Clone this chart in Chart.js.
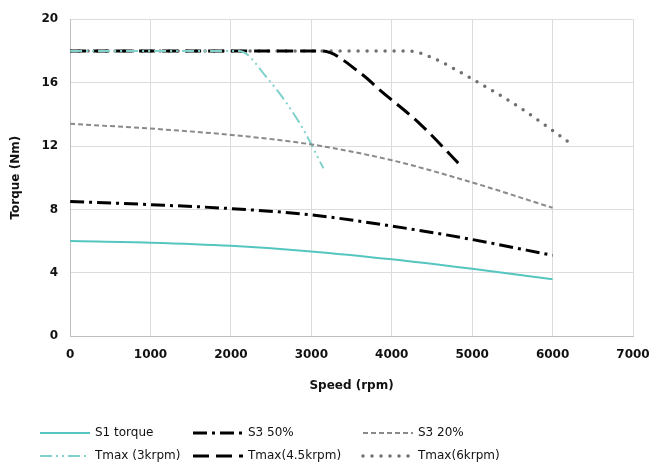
<!DOCTYPE html>
<html>
<head>
<meta charset="utf-8">
<script src="https://cdn.jsdelivr.net/npm/chart.js@4/dist/chart.umd.min.js"></script>
<style>
  html, body { margin: 0; padding: 0; background: #fff; }
  #wrap { width: 667px; height: 472px; }
</style>
</head>
<body>
<div id="wrap"><canvas id="chartTorque"></canvas></div>
<script>
// Curvas de par vs velocidad
const speedS = [0, 1000, 2000, 3000, 4000, 5000, 6000];
const s1Torque = [6.0, 5.9, 5.7, 5.35, 4.85, 4.25, 3.6];
const s3_50 = [8.5, 8.3, 8.05, 7.65, 6.95, 6.1, 5.1];
const s3_20 = [13.4, 13.1, 12.7, 12.1, 11.1, 9.7, 8.1];

const speed3k = [0, 1000, 2100, 2450, 2860, 3150];
const tmax3k = [18, 18, 18, 16.3, 13.4, 10.6];

const speed45k = [0, 1000, 2000, 3130, 3610, 3860, 4350, 4850];
const tmax45k = [18, 18, 18, 18, 16.6, 15.5, 13.4, 10.8];

const speed6k = [0, 1000, 2000, 3000, 4200, 4440, 5010, 5600, 6240];
const tmax6k = [18, 18, 18, 18, 18, 17.7, 16.2, 14.4, 12.1];

const xTicks = [0, 1000, 2000, 3000, 4000, 5000, 6000, 7000];
const yTicks = [0, 4, 8, 12, 16, 20];

function puntos(xs, ys) {
    return xs.map((x, i) => ({ x: x, y: ys[i] }));
}

const FONT = '"DejaVu Sans", Verdana, sans-serif';

// Leyenda propia en 3 columnas
const legendPlugin = {
    id: 'legendGrid',
    afterDraw(chart) {
        const ctx = chart.ctx;
        const cols = [40, 193, 363];
        const rows = [433, 456];
        ctx.save();
        ctx.font = '12px ' + FONT;
        ctx.textBaseline = 'middle';
        chart.data.datasets.forEach((ds, k) => {
            const x = cols[k % 3];
            const y = rows[Math.floor(k / 3)];
            ctx.beginPath();
            ctx.strokeStyle = ds.borderColor;
            ctx.lineWidth = ds.borderWidth;
            ctx.lineCap = ds.borderCapStyle || 'butt';
            ctx.setLineDash(ds.borderDash || []);
            ctx.moveTo(x, y);
            ctx.lineTo(x + 50, y);
            ctx.stroke();
            ctx.setLineDash([]);
            ctx.fillStyle = '#111';
            ctx.fillText(ds.label, x + 55, y);
        });
        ctx.restore();
    }
};

const chartTorque = new Chart(document.getElementById('chartTorque'), {
    type: 'line',
    data: {
        datasets: [
            {
                label: 'S1 torque',
                data: puntos(speedS, s1Torque),
                borderColor: '#55c6bf',
                borderWidth: 2,
                borderDash: []
            },
            {
                label: 'S3 50%',
                data: puntos(speedS, s3_50),
                borderColor: '#000000',
                borderWidth: 3,
                borderDash: [14, 5, 3, 5]
            },
            {
                label: 'S3 20%',
                data: puntos(speedS, s3_20),
                borderColor: '#8a8a8a',
                borderWidth: 2,
                borderDash: [5, 3]
            },
            {
                label: 'Tmax (3krpm)',
                data: puntos(speed3k, tmax3k),
                borderColor: '#7fd3cc',
                borderWidth: 2,
                borderDash: [12, 4, 2, 4, 2, 4]
            },
            {
                label: 'Tmax(4.5krpm)',
                data: puntos(speed45k, tmax45k),
                borderColor: '#000000',
                borderWidth: 3,
                borderDash: [16, 7]
            },
            {
                label: 'Tmax(6krpm)',
                data: puntos(speed6k, tmax6k),
                borderColor: '#707070',
                borderWidth: 3.5,
                borderCapStyle: 'round',
                borderDash: [0, 9]
            }
        ]
    },
    options: {
        responsive: true,
        maintainAspectRatio: false,
        animation: false,
        elements: {
            point: { radius: 0 },
            line: { cubicInterpolationMode: 'monotone', fill: false }
        },
        layout: { padding: { left: 5, right: 34, top: 10, bottom: 75 } },
        plugins: {
            legend: { display: false },
            tooltip: { enabled: false }
        },
        scales: {
            x: {
                type: 'linear',
                min: 0,
                max: 7000,
                afterBuildTicks: axis => { axis.ticks = xTicks.map(v => ({ value: v })); },
                ticks: {
                    color: '#111',
                    font: { family: FONT, size: 12, weight: 'bold' },
                    maxRotation: 0,
                    padding: 11,
                    callback: v => String(v)
                },
                grid: { color: '#dcdcdc', drawTicks: false },
                border: { color: '#bfbfbf' },
                title: {
                    display: true,
                    text: 'Speed (rpm)',
                    color: '#111',
                    font: { family: FONT, size: 12, weight: 'bold' },
                    padding: { top: 6 }
                }
            },
            y: {
                min: 0,
                max: 20,
                afterBuildTicks: axis => { axis.ticks = yTicks.map(v => ({ value: v })); },
                ticks: {
                    color: '#111',
                    font: { family: FONT, size: 12, weight: 'bold' },
                    padding: 12
                },
                grid: { color: '#dcdcdc', drawTicks: false },
                border: { color: '#bfbfbf' },
                title: {
                    display: true,
                    text: 'Torque (Nm)',
                    color: '#111',
                    font: { family: FONT, size: 12, weight: 'bold' },
                    padding: { bottom: 6 }
                }
            }
        }
    },
    plugins: [legendPlugin]
});
</script>
</body>
</html>
